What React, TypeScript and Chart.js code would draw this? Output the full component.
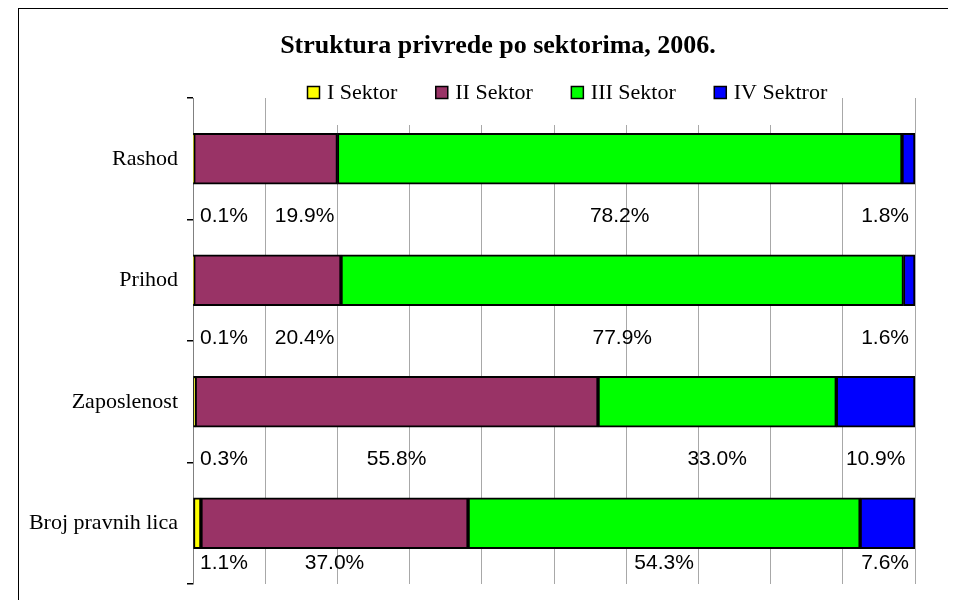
import React, { useEffect, useRef } from "react";
import { Chart, registerables } from "chart.js";

Chart.register(...registerables);

const categories = ["Rashod", "Prihod", "Zaposlenost", "Broj pravnih lica"];
const seriesNames = ["I Sektor", "II Sektor", "III Sektor", "IV Sektror"];
const sektorI = [0.1, 0.1, 0.3, 1.1];
const sektorII = [19.9, 20.4, 55.8, 37.0];
const sektorIII = [78.2, 77.9, 33.0, 54.3];
const sektorIV = [1.8, 1.6, 10.9, 7.6];
const seriesColors = ["#FFFF00", "#993366", "#00FF00", "#0000FF"];
const titleText = "Struktura privrede po sektorima, 2006.";

const SERIF = '"Liberation Serif", "Times New Roman", serif';
const SANS = '"Liberation Sans", Arial, sans-serif';

const decorPlugin = {
  id: "decor",
  beforeDraw(chart: any) {
    const { ctx, width, height } = chart;
    ctx.save();
    ctx.fillStyle = "#fff";
    ctx.fillRect(0, 0, width, height);
    ctx.restore();
  },
  afterDraw(chart: any) {
    const { ctx, chartArea } = chart;
    ctx.save();
    // outer frame
    ctx.strokeStyle = "#000";
    ctx.lineWidth = 1;
    ctx.strokeRect(10.5, 0.5, chart.width + 20, chart.height + 20);

    // data labels
    ctx.font = "21px " + SANS;
    ctx.fillStyle = "#000";
    ctx.textBaseline = "middle";
    ctx.textAlign = "center";
    const xs = chart.scales.x;
    const nCat = chart.data.labels.length;
    for (let i = 0; i < nCat; i++) {
      let acc = 0;
      let prevRight = -Infinity;
      for (let d = 0; d < chart.data.datasets.length; d++) {
        const v = chart.data.datasets[d].data[i];
        const meta = chart.getDatasetMeta(d);
        const bar = meta.data[i];
        const start = xs.getPixelForValue(acc);
        const end = xs.getPixelForValue(acc + v);
        acc += v;
        const txt = v.toFixed(1) + "%";
        const w = ctx.measureText(txt).width;
        let cx = (start + end) / 2;
        cx = Math.max(cx, chartArea.left + 7 + w / 2);
        cx = Math.min(cx, chartArea.right - 6 - w / 2);
        if (cx - w / 2 < prevRight + 27) cx = prevRight + 27 + w / 2;
        prevRight = cx + w / 2;
        const barBottom = bar.y + bar.height / 2;
        const cy = Math.min(barBottom + 32, chartArea.bottom - 21);
        ctx.fillText(txt, cx, cy);
      }
    }

    // legend (drawn over the plot top with white background)
    ctx.font = "22px " + SERIF;
    const box = 12;
    const gapBoxText = 8;
    const itemGap = 38;
    const items = chart.data.datasets.map((ds: any) => ({
      label: ds.label,
      color: ds.backgroundColor,
      w: box + gapBoxText + ctx.measureText(ds.label).width,
    }));
    const total = items.reduce((s: number, it: any) => s + it.w, 0) + itemGap * (items.length - 1);
    const lx0 = 299;
    const ly = 84;
    ctx.fillStyle = "#fff";
    ctx.fillRect(lx0 - 8, 70, total + 14, 47);
    let x = lx0;
    ctx.textAlign = "left";
    ctx.textBaseline = "middle";
    for (const it of items) {
      ctx.fillStyle = it.color;
      ctx.fillRect(x + 0.5, ly - box / 2 + 0.5, box, box);
      ctx.strokeStyle = "#000";
      ctx.lineWidth = 1.5;
      ctx.strokeRect(x + 0.5, ly - box / 2 + 0.5, box, box);
      ctx.fillStyle = "#000";
      ctx.fillText(it.label, x + box + gapBoxText, ly + 1);
      x += it.w + itemGap;
    }

    // title
    ctx.font = "bold 26px " + SERIF;
    ctx.textAlign = "center";
    ctx.textBaseline = "alphabetic";
    ctx.fillStyle = "#000";
    ctx.fillText(chart.options.plugins.decor.title, 490, 44.5);
    ctx.restore();
  },
};

export default function App() {
  const ref = useRef<HTMLCanvasElement | null>(null);
  useEffect(() => {
    if (!ref.current) return;
    const values = [sektorI, sektorII, sektorIII, sektorIV];
    const chart = new Chart(ref.current, {
      type: "bar",
      data: {
        labels: categories,
        datasets: seriesNames.map((name, k) => ({
          label: name,
          data: values[k],
          backgroundColor: seriesColors[k],
          borderColor: "#000",
          borderWidth: 2,
          borderSkipped: false,
          barThickness: 51,
        })),
      },
      options: {
        indexAxis: "y",
        responsive: false,
        animation: false,
        layout: { padding: { top: 90, right: 41, bottom: 16, left: 0 } },
        plugins: {
          legend: { display: false },
          title: { display: false },
          tooltip: { enabled: false },
          decor: { title: titleText },
        } as any,
        scales: {
          x: {
            stacked: true,
            min: 0,
            max: 100,
            afterFit(scale: any) {
              scale.height = 0;
              scale.paddingLeft = 0;
              scale.paddingRight = 0;
            },
            ticks: { display: false, stepSize: 10 },
            grid: { color: "#a8a8a8", lineWidth: 1, drawTicks: false },
            border: { display: false },
          },
          y: {
            stacked: true,
            offset: true,
            afterFit(scale: any) {
              scale.width = 185;
              scale.paddingTop = 0;
              scale.paddingBottom = 0;
            },
            ticks: {
              color: "#000",
              font: { family: SERIF, size: 22 },
              padding: 9,
            },
            grid: {
              drawOnChartArea: false,
              drawTicks: true,
              tickLength: 6,
              color: "#000000",
              lineWidth: 1.5,
            },
            border: { display: true, color: "#808080", width: 1 },
          },
        },
      },
      plugins: [decorPlugin],
    });
    return () => chart.destroy();
  }, []);
  return (
    <div style={{ width: 948, height: 592, overflow: "hidden" }}>
      <canvas ref={ref} width={948} height={592} style={{ display: "block" }} />
    </div>
  );
}
